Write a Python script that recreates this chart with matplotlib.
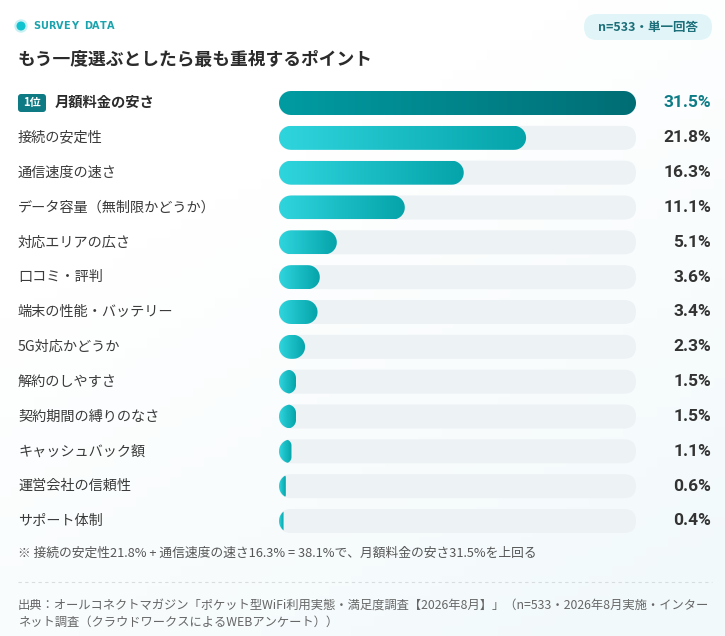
import matplotlib
matplotlib.use("Agg")
import matplotlib.pyplot as plt
import matplotlib.transforms as mtransforms
from matplotlib.patches import FancyBboxPatch, Circle, Polygon
from matplotlib.colors import LinearSegmentedColormap
import numpy as np

plt.rcParams['font.family'] = ['Noto Sans CJK JP', 'DejaVu Sans']

categories = [
    "月額料金の安さ", "接続の安定性", "通信速度の速さ", "データ容量（無制限かどうか）",
    "対応エリアの広さ", "口コミ・評判", "端末の性能・バッテリー", "5G対応かどうか",
    "解約のしやすさ", "契約期間の縛りのなさ", "キャッシュバック額", "運営会社の信頼性",
    "サポート体制",
]
values = [31.5, 21.8, 16.3, 11.1, 5.1, 3.6, 3.4, 2.3, 1.5, 1.5, 1.1, 0.6, 0.4]
value_labels = [f"{v:.1f}%" for v in values]

title = "もう一度選ぶとしたら最も重視するポイント"
kicker = "SURVEY DATA"
pill = "n=533・単一回答"
note = "※ 接続の安定性21.8% + 通信速度の速さ16.3% = 38.1%で、月額料金の安さ31.5%を上回る"
source = ["出典：オールコネクトマガジン「ポケット型WiFi利用実態・満足度調査【2026年8月】」（n=533・2026年8月実施・インター",
          "ネット調査（クラウドワークスによるWEBアンケート））"]

W, H = 725, 636
fig = plt.figure(figsize=(W / 100, H / 100), dpi=100)

# background / pixel-space layer
bg = fig.add_axes([0, 0, 1, 1])
bg.axis("off")
yy, xx = np.mgrid[0:1:64j, 0:1:64j]
tint = np.clip((xx * 0.5 + yy * 0.8) - 0.4, 0, 1)
bg_cmap = LinearSegmentedColormap.from_list("bg", ["#ffffff", "#f1f9fb"])
bg.imshow(tint, extent=[0, W, H, 0], cmap=bg_cmap, aspect="auto", zorder=0)
bg.set_xlim(0, W)
bg.set_ylim(H, 0)

# header
bg.add_patch(Circle((21, 26), 6, color="#c9f1f4", zorder=2))
bg.add_patch(Circle((21, 26), 3.8, color="#10c3cf", zorder=3))
x = 33
for ch in kicker:
    bg.text(x, 26, ch, fontsize=7, fontweight="bold", color="#1aa3ad",
            family="DejaVu Sans", va="center", ha="left")
    x += 7.6 if ch != " " else 6
bg.text(18, 60, title, fontsize=12.8, fontweight="bold", color="#2b2b2b",
        va="center", ha="left")
bg.add_patch(FancyBboxPatch((584, 14), 128, 26, boxstyle="round,pad=0,rounding_size=13",
                            fc="#e1f5f8", ec="none", zorder=2))
bg.text(648, 27.5, pill, fontsize=9, fontweight="bold", color="#1d6f79",
        va="center", ha="center", zorder=3)

# bar axes
n = len(categories)
row_top, row_bot = 103, 521
step = (row_bot - row_top) / (n - 1)
ax_top = row_top - step / 2
ax_bot = row_bot + step / 2
track_px = 636 - 279
ax = fig.add_axes([279 / W, 1 - ax_bot / H, track_px / W, (ax_bot - ax_top) / H])
ax.axis("off")
xmax = max(values)

half_px = 12.0               # bar half-height in pixels
px_x = xmax / track_px       # data units per pixel (x)
px_y = 1 / step              # data units per pixel (y)
bar_h = 2 * half_px * px_y
aspect = px_y / px_x
radius = half_px * px_x


def rounded_left(dy, r):
    """x offset (px) of a rounded end with corner radius r at vertical offset dy."""
    k = np.clip(np.abs(dy) - (half_px - r), 0, None)
    return r - np.sqrt(np.clip(r ** 2 - k ** 2, 0, None))


def fill_shape(i, v):
    # fill bar (pill with clamped radius) clipped by the track's rounded left end
    w = v / px_x
    rf = min(half_px, w / 2)
    dy = np.linspace(-half_px, half_px, 121)
    left = rounded_left(dy, half_px)
    right = w - rounded_left(dy, rf)
    ok = left <= right
    dy, left, right = dy[ok], left[ok], right[ok]
    xs = np.concatenate([left, right[::-1]]) * px_x
    ys = i + np.concatenate([dy, dy[::-1]]) * px_y
    return Polygon(np.column_stack([xs, ys]), closed=True, fc="none", ec="none")


light = LinearSegmentedColormap.from_list("light", ["#2fd5dd", "#05a3aa"])
dark = LinearSegmentedColormap.from_list("dark", ["#009ca2", "#006d74"])
grad = np.linspace(0, 1, 256).reshape(1, -1)

for i, v in enumerate(values):
    track = FancyBboxPatch((0, i - bar_h / 2), xmax, bar_h,
                           boxstyle=f"round,pad=0,rounding_size={radius}",
                           mutation_aspect=aspect, fc="#edf2f5", ec="none", zorder=1)
    ax.add_patch(track)
    fill = fill_shape(i, v)
    ax.add_patch(fill)
    im = ax.imshow(grad, extent=[0, v, i + bar_h / 2, i - bar_h / 2],
                   cmap=dark if i == 0 else light, aspect="auto", zorder=2)
    im.set_clip_path(fill)
ax.set_xlim(0, xmax)
ax.set_ylim(n - 0.5, -0.5)

# labels
blend = mtransforms.blended_transform_factory(bg.transData, ax.transData)
for i, (c, lab) in enumerate(zip(categories, value_labels)):
    if i == 0:
        bg.add_patch(FancyBboxPatch((18, 94), 28, 18, boxstyle="round,pad=0,rounding_size=3",
                                    fc="#0e7a83", ec="none", zorder=3))
        ax.text(32, i, "1位", transform=blend, fontsize=8, fontweight="bold",
                color="white", va="center", ha="center", zorder=4)
        ax.text(55, i, c, transform=blend, fontsize=10.3, fontweight="bold",
                color="#2b2b2b", va="center", ha="left")
        vc = "#0e7c86"
    else:
        ax.text(18, i, c, transform=blend, fontsize=10.2, color="#3a3a3a",
                va="center", ha="left")
        vc = "#333333"
    ax.text(711, i, lab, transform=blend, fontsize=12.5, fontweight="bold",
            color=vc, va="center", ha="right", family=["Roboto", "DejaVu Sans"])

# footer
bg.text(18, 553, note, fontsize=9.2, color="#555555", va="center", ha="left")
bg.plot([18, 712], [582, 582], color="#d9dde0", lw=0.8, ls=(0, (3, 3)))
bg.text(18, 605, source[0], fontsize=8.85, color="#666666", va="center", ha="left")
bg.text(18, 622, source[1], fontsize=8.85, color="#666666", va="center", ha="left")

fig.savefig("out.png", dpi=100)
